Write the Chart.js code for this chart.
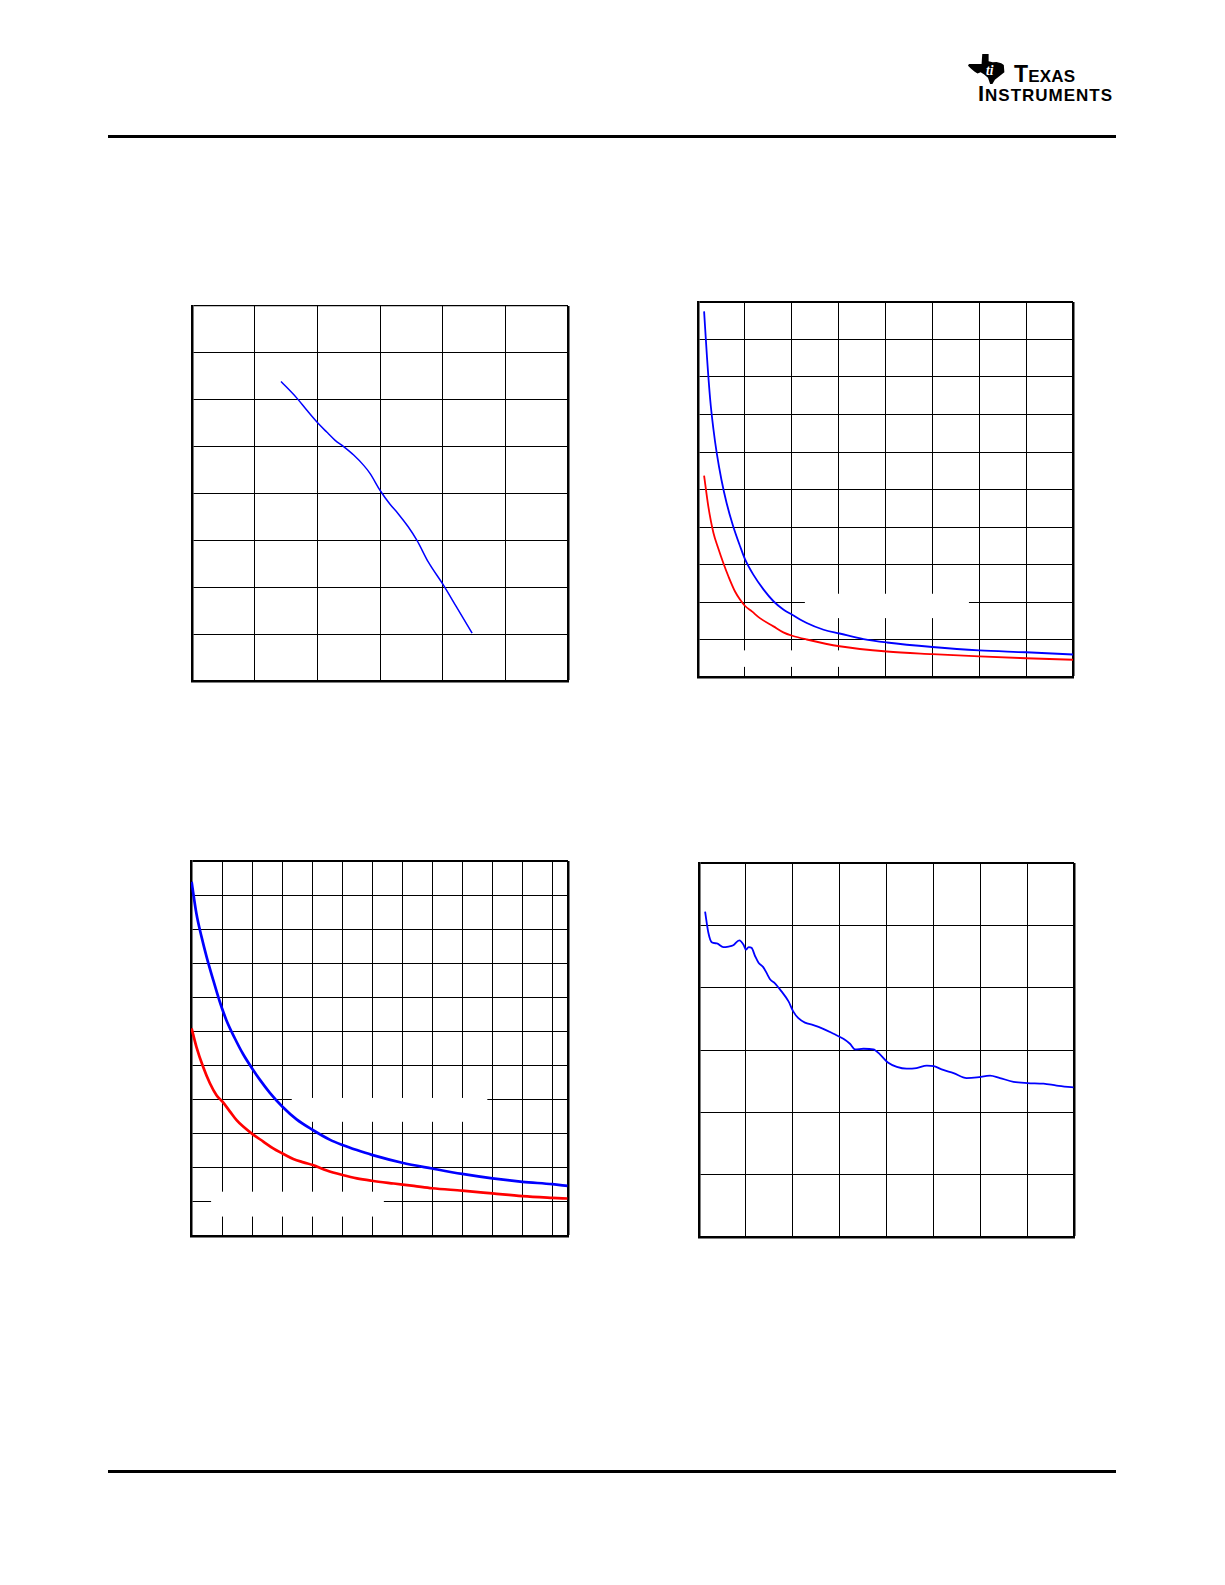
<!DOCTYPE html>
<html>
<head>
<meta charset="utf-8">
<script src="https://cdn.jsdelivr.net/npm/chart.js@4.4.1/dist/chart.umd.min.js"></script>
<style>
    body {
        margin: 0;
        width: 1225px;
        height: 1585px;
        background: #fff;
        position: relative;
        overflow: hidden;
        font-family: "Liberation Sans", Arial, sans-serif;
    }
    .rule {
        position: absolute;
        left: 108px;
        width: 1008px;
        height: 3px;
        background: #000;
    }
    .plot {
        position: absolute;
    }
    #header {
        position: absolute;
        left: 0;
        top: 0;
    }
</style>
</head>
<body>

<svg id="header" width="1225" height="120">
    <g transform="translate(968,54) scale(0.95,1.1)">
        <path fill="#000" d="M15,0 L21.7,0 L21.7,6.7 L26,7.6 L30,7.2 L35,8.3 L37.7,10 L38.3,16.7 L33.3,20 L28.3,23.3 L25.7,27.3 L23.3,27.3 L21,21.7 L16.7,18.3 L13.3,16.7 L10,17.7 L6.7,16 L3.3,13.3 L0,10.7 L1,9 L14.3,9 Z"/>
        <text x="19" y="19" fill="#fff" font-family="Liberation Serif" font-style="italic" font-weight="bold" font-size="14">ti</text>
    </g>
    <text x="1014" y="82" font-family="Liberation Sans" font-weight="bold" font-size="17" textLength="61" lengthAdjust="spacing"><tspan font-size="23">T</tspan>EXAS</text>
    <text x="978" y="101" font-family="Liberation Sans" font-weight="bold" font-size="17" textLength="134" lengthAdjust="spacing"><tspan font-size="22">I</tspan>NSTRUMENTS</text>
</svg>

<div class="rule" style="top:135px"></div>
<div class="rule" style="top:1470px"></div>

<div class="plot" id="box1"><canvas id="chart1"></canvas></div>
<div class="plot" id="box2"><canvas id="chart2"></canvas></div>
<div class="plot" id="box3"><canvas id="chart3"></canvas></div>
<div class="plot" id="box4"><canvas id="chart4"></canvas></div>

<script>
        // --- data (grid units, text was blanked out) ---

        // top left: single blue curve
        const chart1X = [1.42, 1.67, 1.83, 1.99, 2.15, 2.28, 2.42, 2.58, 2.74, 2.84, 3.0, 3.16, 3.29, 3.45, 3.59, 3.77, 4.01, 4.22, 4.47];
        const chart1Y = [6.39, 6.04, 5.78, 5.53, 5.31, 5.14, 5.0, 4.82, 4.6, 4.43, 4.07, 3.77, 3.57, 3.29, 3.0, 2.54, 2.05, 1.58, 1.02];

        // top right: blue and red decays
        const chart2BlueX = [0.13, 0.19, 0.26, 0.33, 0.4, 0.5, 0.61, 0.75, 0.9, 1.0, 1.18, 1.4, 1.61, 1.82, 2.01, 2.32, 2.68, 3.02, 3.53, 4.03, 5.0, 6.0, 7.0, 8.0];
        const chart2Blue = [9.75, 8.56, 7.40, 6.60, 5.97, 5.26, 4.64, 4.02, 3.48, 3.15, 2.73, 2.33, 2.02, 1.80, 1.66, 1.44, 1.26, 1.16, 1.01, 0.92, 0.80, 0.71, 0.66, 0.60];
        const chart2RedX = [0.13, 0.22, 0.33, 0.43, 0.54, 0.65, 0.79, 0.9, 1.0, 1.15, 1.32, 1.61, 1.82, 2.01, 2.32, 3.02, 4.03, 5.0, 6.0, 7.0, 8.0];
        const chart2Red = [5.37, 4.55, 3.84, 3.44, 3.04, 2.68, 2.28, 2.06, 1.90, 1.75, 1.57, 1.35, 1.19, 1.10, 1.0, 0.82, 0.68, 0.61, 0.55, 0.50, 0.46];

        // bottom left: blue and red decays, thicker lines
        const chart3BlueX = [-0.03, 0.13, 0.3, 0.47, 0.69, 0.91, 1.13, 1.41, 1.69, 2.0, 2.25, 2.58, 3.0, 3.47, 4.01, 4.59, 5.0, 5.48, 5.98, 6.99, 7.99, 8.99, 10.0, 11.0, 12.0, 12.5];
        const chart3Blue = [10.39, 9.46, 8.78, 8.19, 7.51, 6.87, 6.33, 5.80, 5.33, 4.90, 4.58, 4.20, 3.79, 3.42, 3.11, 2.82, 2.67, 2.52, 2.38, 2.15, 1.98, 1.82, 1.69, 1.59, 1.52, 1.47];
        const chart3RedX = [-0.03, 0.13, 0.35, 0.58, 0.8, 1.0, 1.25, 1.47, 1.69, 2.0, 2.36, 2.69, 3.0, 3.36, 3.7, 4.01, 4.48, 5.0, 5.48, 5.98, 6.71, 7.38, 7.99, 8.99, 10.0, 11.0, 12.0, 12.5];
        const chart3Red = [6.09, 5.55, 4.97, 4.48, 4.13, 3.94, 3.65, 3.40, 3.21, 2.99, 2.77, 2.57, 2.42, 2.26, 2.16, 2.08, 1.92, 1.79, 1.69, 1.62, 1.54, 1.47, 1.40, 1.33, 1.25, 1.17, 1.12, 1.10];

        // bottom right: wavy blue curve
        const chart4X = [0.13, 0.2, 0.27, 0.38, 0.52, 0.63, 0.73, 0.86, 0.95, 1.0, 1.06, 1.12, 1.2, 1.27, 1.37, 1.46, 1.52, 1.62, 1.76, 1.91, 2.01, 2.12, 2.26, 2.44, 2.65, 2.87, 3.08, 3.22, 3.33, 3.51, 3.72, 3.86, 4.03, 4.22, 4.43, 4.64, 4.86, 5.01, 5.21, 5.43, 5.71, 5.93, 6.21, 6.42, 6.71, 7.01, 7.35, 7.63, 7.99];
        const chart4Y = [5.22, 4.88, 4.73, 4.71, 4.65, 4.66, 4.68, 4.76, 4.69, 4.61, 4.65, 4.64, 4.50, 4.40, 4.33, 4.21, 4.13, 4.07, 3.94, 3.78, 3.62, 3.51, 3.44, 3.40, 3.34, 3.26, 3.18, 3.10, 3.01, 3.02, 3.01, 2.93, 2.80, 2.73, 2.70, 2.71, 2.75, 2.74, 2.68, 2.63, 2.55, 2.56, 2.59, 2.55, 2.49, 2.47, 2.46, 2.43, 2.40];

        // grid lines (tick values) for each chart
        const chart1XLines = [1, 2, 3, 4, 5];
        const chart1YLines = [1, 2, 3, 4, 5, 6, 7];
        const chart2XLines = [1, 2, 3, 4, 5, 6, 7];
        const chart2YLines = [1, 2, 3, 4, 5, 6, 7, 8, 9];
        const chart3XLines = [1, 2, 3, 4, 5, 6, 7, 8, 9, 10, 11, 12];
        const chart3YLines = [1, 2, 3, 4, 5, 6, 7, 8, 9, 10];
        const chart4XLines = [1, 2, 3, 4, 5, 6, 7];
        const chart4YLines = [1, 2, 3, 4, 5];

        const BLUE = '#0000ff';
        const RED = '#ff0000';
        const PAD = 6;

        // blanked-out legend boxes (white), in axis units
        const blanksPlugin = {
            id: 'blanks',
            beforeDatasetsDraw(chart, args, opts) {
                const boxes = opts.boxes || [];
                const xs = chart.scales.x;
                const ys = chart.scales.y;
                const ctx = chart.ctx;
                ctx.save();
                ctx.fillStyle = '#fff';
                boxes.forEach(b => {
                    const left = xs.getPixelForValue(b.x0);
                    const right = xs.getPixelForValue(b.x1);
                    const top = ys.getPixelForValue(b.y1);
                    const bottom = ys.getPixelForValue(b.y0);
                    ctx.fillRect(left, top, right - left, bottom - top);
                });
                ctx.restore();
            }
        };

        function pairs(xs, ys) {
            return xs.map((x, i) => ({ x: x, y: ys[i] }));
        }

        function axisOptions(min, max, lines, edgeWidth) {
            return {
                type: 'linear',
                min: min,
                max: max,
                ticks: { display: false },
                grid: {
                    color: '#000',
                    drawTicks: false,
                    lineWidth: ctx => (ctx.tick && ctx.tick.value === max) ? edgeWidth : 1
                },
                border: { display: true, color: '#000', width: 2.5 },
                afterBuildTicks: axis => {
                    axis.ticks = lines.concat([max]).map(v => ({ value: v }));
                }
            };
        }

        function line(data, color, width) {
            return {
                data: data,
                borderColor: color,
                borderWidth: width,
                pointRadius: 0,
                fill: false,
                cubicInterpolationMode: 'monotone'
            };
        }

        function buildChart(boxId, canvasId, area, xAxis, yAxis, datasets, boxes) {
            const box = document.getElementById(boxId);
            box.style.left = (area.left - PAD) + 'px';
            box.style.top = (area.top - PAD) + 'px';
            const canvas = document.getElementById(canvasId);
            canvas.width = area.width + 2 * PAD;
            canvas.height = area.height + 2 * PAD;

            return new Chart(canvas.getContext('2d'), {
                type: 'line',
                data: { datasets: datasets },
                options: {
                    responsive: false,
                    animation: false,
                    events: [],
                    layout: { padding: PAD },
                    plugins: {
                        legend: { display: false },
                        tooltip: { enabled: false },
                        blanks: { boxes: boxes }
                    },
                    scales: {
                        x: xAxis,
                        y: yAxis
                    }
                },
                plugins: [blanksPlugin]
            });
        }

        buildChart('box1', 'chart1', { left: 192, top: 306, width: 376, height: 375 },
            axisOptions(0, 6, chart1XLines, 2.5),
            axisOptions(0, 8, chart1YLines, 1.2),
            [line(pairs(chart1X, chart1Y), BLUE, 1.5)],
            []);

        buildChart('box2', 'chart2', { left: 698, top: 302, width: 375, height: 375 },
            axisOptions(0, 8, chart2XLines, 2.5),
            axisOptions(0, 10, chart2YLines, 2),
            [line(pairs(chart2BlueX, chart2Blue), BLUE, 1.8),
             line(pairs(chart2RedX, chart2Red), RED, 1.8)],
            [{ x0: 2.28, x1: 5.78, y0: 1.57, y1: 2.22 },
             { x0: 0.5, x1: 3.5, y0: 0.27, y1: 0.71 }]);

        buildChart('box3', 'chart3', { left: 191, top: 861, width: 377, height: 375 },
            axisOptions(-0.05, 12.52, chart3XLines, 2.5),
            axisOptions(0, 11, chart3YLines, 2),
            [line(pairs(chart3BlueX, chart3Blue), BLUE, 2.7),
             line(pairs(chart3RedX, chart3Red), RED, 2.7)],
            [{ x0: 3.31, x1: 9.83, y0: 3.35, y1: 4.05 },
             { x0: 0.62, x1: 6.38, y0: 0.57, y1: 1.30 }]);

        buildChart('box4', 'chart4', { left: 699, top: 863, width: 375, height: 374 },
            axisOptions(0, 8, chart4XLines, 2.5),
            axisOptions(0, 6, chart4YLines, 2),
            [line(pairs(chart4X, chart4Y), BLUE, 1.8)],
            []);
</script>
</body>
</html>
